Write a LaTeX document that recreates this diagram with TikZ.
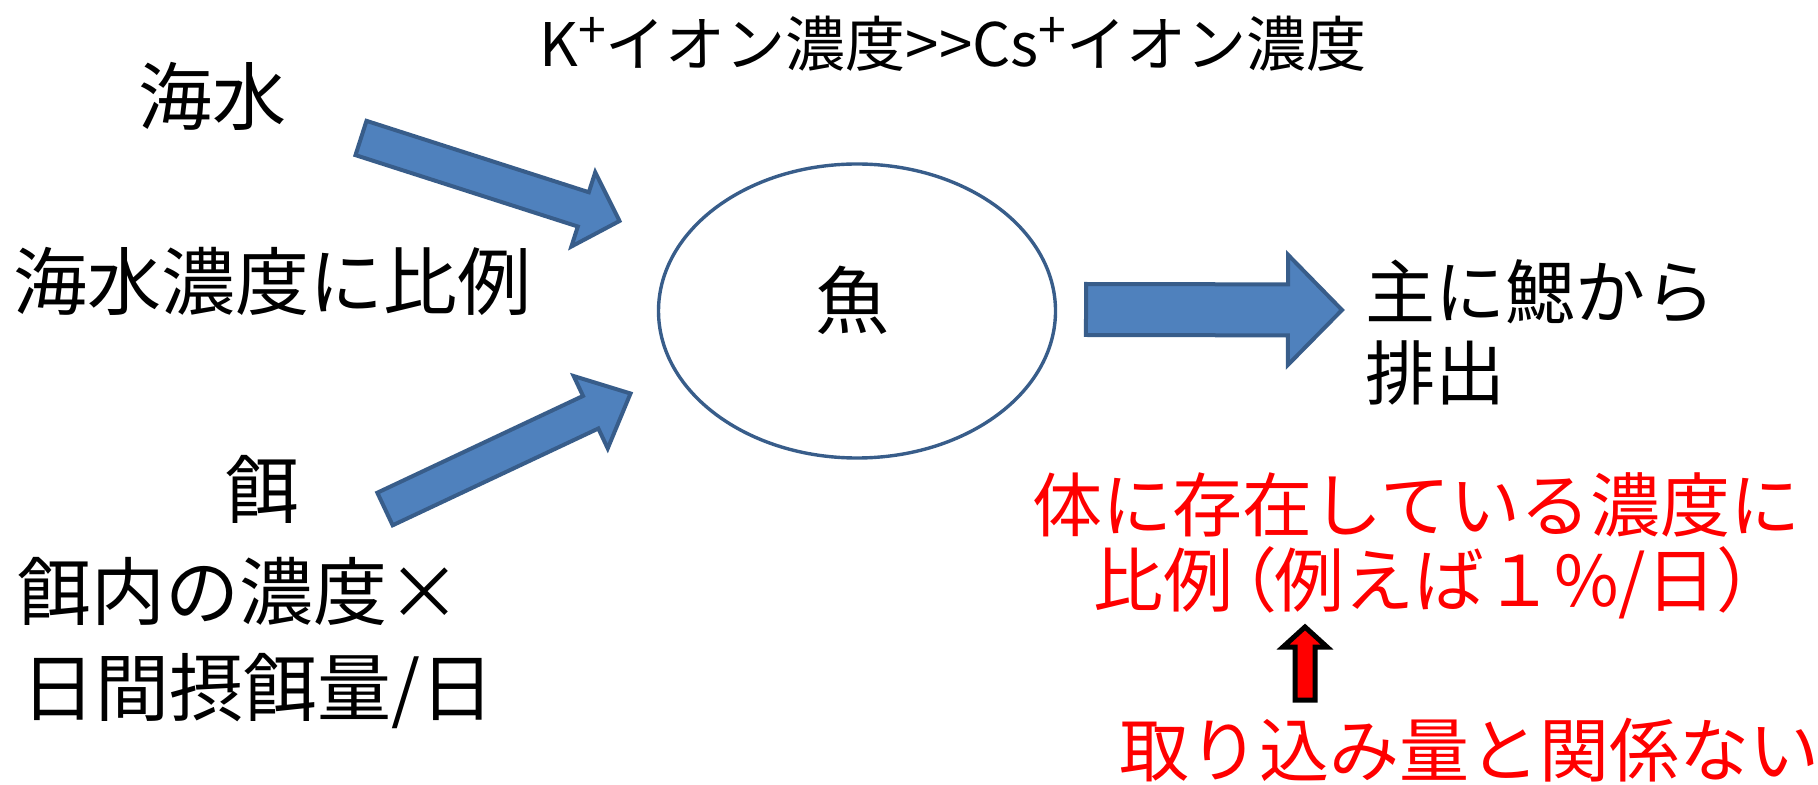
\documentclass[tikz,border=0pt]{standalone}
\usepackage{fontspec}
\setmainfont{Noto Sans CJK JP}
\usetikzlibrary{calc,shapes.geometric}
\definecolor{arrowblue}{HTML}{4F81BD}
\definecolor{edgeblue}{HTML}{385D8A}
\definecolor{tred}{HTML}{FF0000}
% #1 style, #2 start, #3 end, #4 half shaft, #5 half head, #6 head length
\newcommand\blockarr[6]{%
  \coordinate (neck) at ($(#3)!#6!(#2)$);
  \draw[#1] ($(#2)!#4!90:(#3)$) -- ($(neck)!#4!90:(#3)$) -- ($(neck)!#5!90:(#3)$)
    -- (#3) -- ($(neck)!#5!-90:(#3)$) -- ($(neck)!#4!-90:(#3)$)
    -- ($(#2)!#4!-90:(#3)$) -- cycle;
}
\newcommand\supplus{\raisebox{0.3em}{\fontsize{25pt}{25pt}\selectfont +}}
\begin{document}
\begin{tikzpicture}[x=0.5pt,y=-0.5pt,
  lbl/.style={inner sep=0pt, font=\fontsize{37pt}{40pt}\selectfont},
  rlbl/.style={inner sep=0pt, font=\fontsize{35pt}{40pt}\selectfont},
  redlbl/.style={rlbl, text=tred},
  toplbl/.style={inner sep=0pt, font=\fontsize{30pt}{34pt}\selectfont},
  fish/.style={ellipse, draw=edgeblue, line width=1.7pt, inner sep=0pt,
    minimum width=198.5pt, minimum height=147pt},
  bluearrow/.style={fill=arrowblue, draw=edgeblue, line width=2pt, line join=miter},
  redarrow/.style={fill=tred, draw=black, line width=2.5pt, line join=miter},
]
\useasboundingbox (0,0) rectangle (1818,785);

\node[toplbl] (top) at (953,44) {K\supplus イオン濃度>{}>Cs\supplus イオン濃度};

\node[lbl] (kaisui) at (212,96) {海水};
\node[lbl, anchor=west] (kaisuinodo) at (13,281) {海水濃度に比例};
\node[lbl] (esa) at (262,489) {餌};
\node[lbl, anchor=west] (esa1) at (17,591) {餌内の濃度×};
\node[lbl, anchor=west] (esa2) at (21,691) {日間摂餌量/日};

\node[fish] (sakana) at (857,311) {};
\node[lbl] (sakanalbl) at (852,300) {魚};

\node[rlbl, anchor=west] (gill) at (1365,292) {主に鰓から};
\node[rlbl, anchor=west] (haishutsu) at (1365,373) {排出};

\node[redlbl, anchor=west] (red1) at (1032,505) {体に存在している濃度に};
\node[redlbl, anchor=west] (red2) at (1093,583) {比例\kern-0.37em（\kern-0.05em 例えば１\%/日）};
\node[redlbl, anchor=west] (red3) at (1119,750) {取り込み量と関係ない};

\coordinate (a1s) at (361,138);
\coordinate (a1e) at (619.5,221);
\coordinate (a2s) at (385,509);
\coordinate (a2e) at (630.5,393.5);
\coordinate (a3s) at (1086,309.5);
\coordinate (a3e) at (1342,310);
\coordinate (r1s) at (1305,700);
\coordinate (r1e) at (1305,627);

\blockarr{bluearrow}{a1s}{a1e}{9pt}{19.5pt}{19pt}
\blockarr{bluearrow}{a2s}{a2e}{9pt}{20pt}{22pt}
\blockarr{bluearrow}{a3s}{a3e}{12.75pt}{27.5pt}{27pt}
\blockarr{redarrow}{r1s}{r1e}{5pt}{11pt}{10pt}
\end{tikzpicture}
\end{document}
